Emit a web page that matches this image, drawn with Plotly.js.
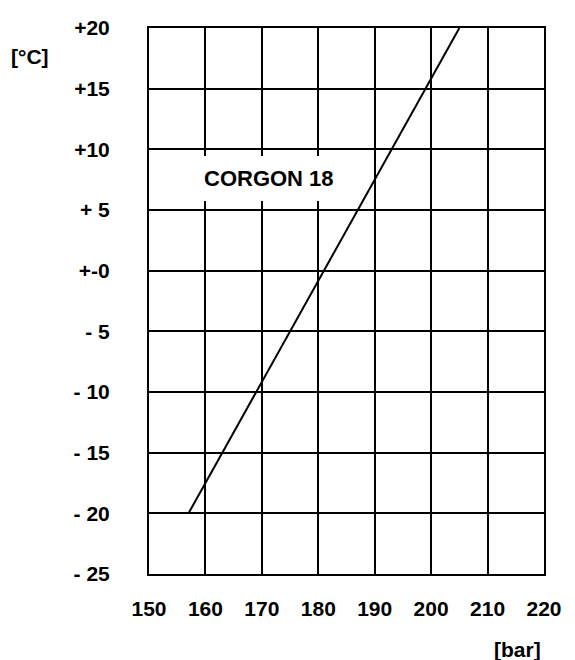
<!DOCTYPE html>
<html>
<head>
<meta charset="utf-8">
<script src="https://cdn.plot.ly/plotly-3.0.1.min.js"></script>
<style>html,body{margin:0;padding:0;background:#fff;}#chart{width:575px;height:660px;}</style>
</head>
<body>
<div id="chart"></div>
<script>
// Data
const pressureBar = [157, 181, 205];
const temperatureC = [-20, 0, 20];
const xTickVals = [150, 160, 170, 180, 190, 200, 210, 220];
const xTickText = ['150', '160', '170', '180', '190', '200', '210', '220'];
const yTickVals = [20, 15, 10, 5, 0, -5, -10, -15, -20, -25];
const yTickText = ['+20', '+15', '+10', '+ 5', '+-0', '- 5', '- 10', '- 15', '- 20', '- 25'];
const seriesName = 'CORGON 18';

const FONT = 'Arial, "Liberation Sans", sans-serif';

const trace = {
  x: pressureBar,
  y: temperatureC,
  mode: 'lines',
  line: {color: '#000', width: 2},
  name: seriesName,
  hoverinfo: 'skip'
};

const layout = {
  width: 575,
  height: 660,
  margin: {l: 149, r: 31, t: 28, b: 86},
  paper_bgcolor: '#fff',
  plot_bgcolor: '#fff',
  showlegend: false,
  font: {family: FONT, color: '#000', size: 21, weight: 700},
  xaxis: {
    range: [150, 220],
    tickvals: xTickVals,
    ticktext: xTickText,
    showgrid: true,
    gridcolor: '#000',
    gridwidth: 2,
    showline: true,
    linecolor: '#000',
    linewidth: 2,
    mirror: true,
    zeroline: false,
    ticks: '',
    ticklabelstandoff: 15,
    tickfont: {family: FONT, size: 21, color: '#000', weight: 700}
  },
  yaxis: {
    range: [-25, 20],
    tickvals: yTickVals,
    ticktext: yTickText,
    showgrid: true,
    gridcolor: '#000',
    gridwidth: 2,
    showline: true,
    linecolor: '#000',
    linewidth: 2,
    mirror: true,
    zeroline: false,
    ticks: '',
    ticklabelstandoff: 33,
    tickfont: {family: FONT, size: 21, color: '#000', weight: 700}
  },
  annotations: [
    {
      x: 171.2, y: 7.6, xref: 'x', yref: 'y',
      text: seriesName, showarrow: false,
      font: {family: FONT, size: 22, color: '#000', weight: 700},
      bgcolor: '#fff', borderpad: 10, borderwidth: 0
    },
    {
      x: -0.301, y: 0.947, xref: 'paper', yref: 'paper',
      xanchor: 'center', yanchor: 'middle',
      text: '[°C]', showarrow: false,
      font: {family: FONT, size: 21, color: '#000', weight: 700}
    },
    {
      x: 0.934, y: -0.139, xref: 'paper', yref: 'paper',
      xanchor: 'center', yanchor: 'middle',
      text: '[bar]', showarrow: false,
      font: {family: FONT, size: 21, color: '#000', weight: 700}
    }
  ]
};

Plotly.newPlot('chart', [trace], layout, {displayModeBar: false, staticPlot: true});
</script>
</body>
</html>
